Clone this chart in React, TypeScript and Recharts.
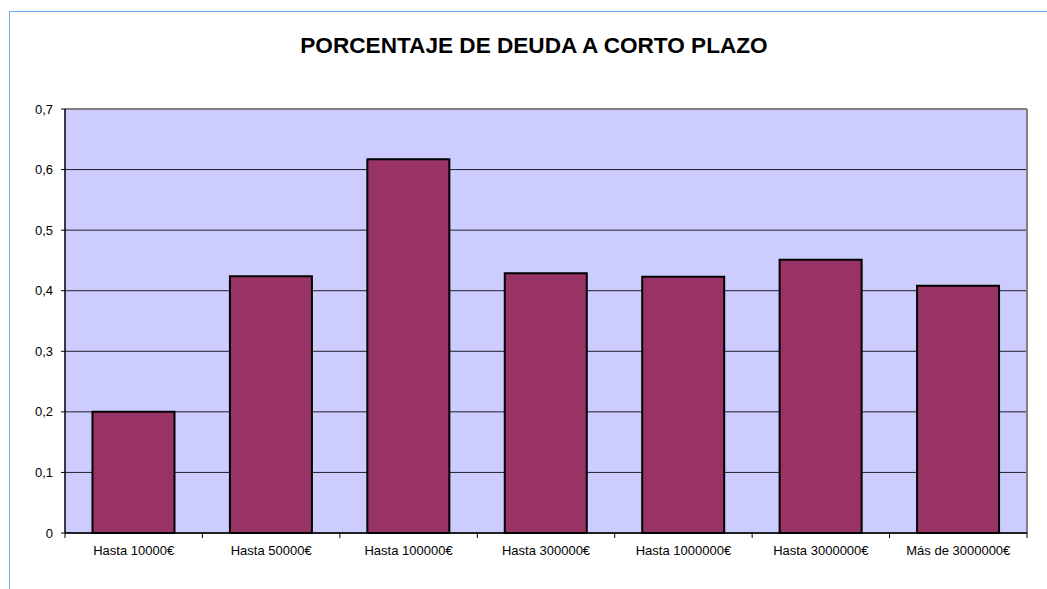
import React from 'react';
import { BarChart, Bar, XAxis, YAxis, CartesianGrid, ReferenceLine } from 'recharts';

const categories = [
  'Hasta 10000€',
  'Hasta 50000€',
  'Hasta 100000€',
  'Hasta 300000€',
  'Hasta 1000000€',
  'Hasta 3000000€',
  'Más de 3000000€',
];
const deudaCorto = [0.2, 0.424, 0.617, 0.429, 0.423, 0.451, 0.408];
const yTicks = [0, 0.1, 0.2, 0.3, 0.4, 0.5, 0.6, 0.7];

const chartData = categories.map((name, i) => ({ name, value: deudaCorto[i] }));

const fmt = (v: number) => (v === 0 ? '0' : v.toFixed(1).replace('.', ','));

const font = '"Liberation Sans", Arial, sans-serif';

// category label plus tick marks at the category boundaries, like Excel
const CatTick = (props: any) => {
  const { x, y, payload, index, visibleTicksCount } = props;
  const half = payload && payload.offset ? payload.offset : 0;
  const axisY = y - 13;
  return (
    <g>
      {half > 0 && <line x1={x - half} x2={x - half} y1={axisY} y2={axisY + 5} stroke="#000" />}
      {half > 0 && index === visibleTicksCount - 1 && (
        <line x1={x + half} x2={x + half} y1={axisY} y2={axisY + 5} stroke="#000" />
      )}
      <text x={x} y={y} dy="0.71em" textAnchor="middle" fill="#000" fontSize={13} fontFamily={font}>
        {payload.value}
      </text>
    </g>
  );
};

const App: React.FC = () => {
  return (
    <div style={{ position: 'absolute', left: 0, top: 0, width: 1047, height: 589, background: '#fff', fontFamily: font }}>
      <div
        style={{
          position: 'absolute',
          left: 9,
          top: 11,
          width: 1100,
          height: 700,
          borderLeft: '1px solid #6AAEF7',
          borderTop: '1px solid #6AAEF7',
        }}
      />
      <div
        style={{
          position: 'absolute',
          left: 0,
          width: 1068,
          top: 33,
          textAlign: 'center',
          fontWeight: 'bold',
          fontSize: 22.6,
          color: '#000',
        }}
      >
        PORCENTAJE DE DEUDA A CORTO PLAZO
      </div>
      <div style={{ position: 'absolute', left: 0, top: 0 }}>
        <BarChart
          width={1047}
          height={589}
          data={chartData}
          margin={{ top: 109, right: 20, left: 8, bottom: 26 }}
          barCategoryGap="20%"
        >
          <CartesianGrid vertical={false} fill="#CCCCFF" stroke="#000" strokeOpacity={0.85} />
          <CartesianGrid
            horizontal={false}
            verticalCoordinatesGenerator={({ offset }: any) => [offset.left + offset.width]}
            stroke="#808080"
            strokeWidth={2}
          />
          <XAxis
            dataKey="name"
            tickLine={false}
            tickSize={0}
            tickMargin={13}
            height={30}
            axisLine={{ stroke: '#000', strokeWidth: 1.5 }}
            tick={<CatTick />}
            interval={0}
          />
          <YAxis
            domain={[0, 0.7]}
            ticks={yTicks}
            tickFormatter={fmt}
            tickSize={4}
            tickMargin={8}
            width={57}
            axisLine={{ stroke: '#000', strokeWidth: 1.5 }}
            tickLine={{ stroke: '#000' }}
            tick={{ fill: '#000', fontSize: 13, fontFamily: font }}
          />
          <ReferenceLine y={0.7} stroke="#808080" strokeWidth={2} />
          <Bar dataKey="value" fill="#993366" stroke="#000" strokeWidth={2} isAnimationActive={false} />
        </BarChart>
      </div>
    </div>
  );
};

export default App;
